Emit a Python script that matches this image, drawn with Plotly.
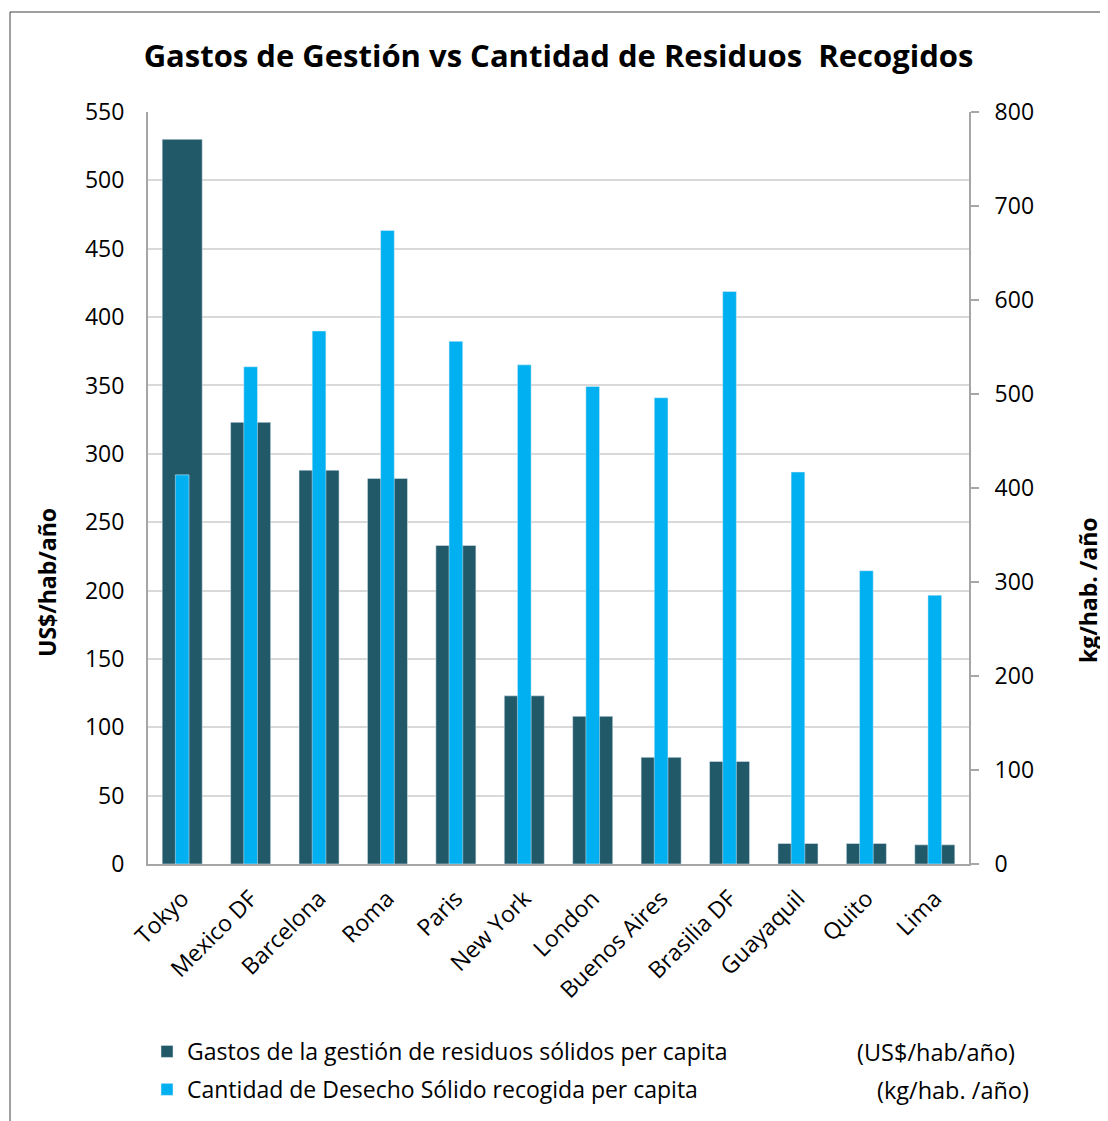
import plotly.graph_objects as go

cities = ["Tokyo", "Mexico DF", "Barcelona", "Roma", "Paris", "New York", "London",
          "Buenos Aires", "Brasilia DF", "Guayaquil", "Quito", "Lima"]
gastos = [530, 323, 288, 282, 233, 123, 108, 78, 75, 15, 15, 14]
cantidad = [414, 529, 567, 674, 556, 531, 508, 496, 609, 417, 312, 286]

name_gastos = "Gastos de la gestión de residuos sólidos per capita"
name_cantidad = "Cantidad de Desecho Sólido recogida per capita"
unit_gastos = "(US$/hab/año)"
unit_cantidad = "(kg/hab. /año)"
title_text = "Gastos de Gestión vs Cantidad de Residuos  Recogidos"

DARK = "#215968"
LIGHT = "#00B0F0"
FONT = "Open Sans"

# page body margin offset
O = 8
W, H = 1108 - O, 1170
L, R, T, B = 148 - O, 969 - O, 112 - O, 864 - O

fig = go.Figure()
fig.add_trace(go.Bar(x=cities, y=gastos, name=name_gastos, marker_color=DARK,
                     width=0.585, yaxis="y", legendgroup="a"))
fig.add_trace(go.Bar(x=cities, y=cantidad, name=name_cantidad, marker_color=LIGHT,
                     width=0.2, yaxis="y2", legendgroup="b"))

def px_x(p):
    return (p - O - L) / (R - L)

def px_y(p):
    return (B - (p - O)) / (B - T)

fig.update_layout(
    width=W, height=H,
    margin=dict(l=L, r=W - R, t=T, b=H - B),
    paper_bgcolor="white", plot_bgcolor="white",
    barmode="overlay",
    font=dict(family=FONT, color="#000000"),
    title=dict(text="<b>" + title_text + "</b>", x=0.5, xref="paper",
               y=1 - (56 - O) / H, yref="container", xanchor="center", yanchor="middle",
               font=dict(size=31, family=FONT, color="#000000")),
    xaxis=dict(showline=True, linecolor="#a6a6a6", linewidth=2, tickangle=-45,
               tickfont=dict(size=23, family=FONT), ticks="", showgrid=False,
               ticklabelstandoff=10, fixedrange=True),
    yaxis=dict(range=[0, 550], dtick=50, showgrid=True, gridcolor="#d9d9d9", gridwidth=2,
               showline=True, linecolor="#a6a6a6", linewidth=2, ticks="",
               tickfont=dict(size=23, family=FONT), ticklabelstandoff=17, zeroline=False),
    yaxis2=dict(range=[0, 800], dtick=100, overlaying="y", side="right", showgrid=False,
                showline=True, linecolor="#a6a6a6", linewidth=2, ticks="outside",
                ticklen=8, tickwidth=2, tickcolor="#a6a6a6",
                tickfont=dict(size=23, family=FONT), ticklabelstandoff=11, zeroline=False),
    legend=dict(x=px_x(147), y=px_y(1030), xanchor="left", yanchor="top",
                orientation="v", traceorder="grouped", tracegroupgap=5,
                font=dict(size=23, family=FONT), itemwidth=30, bgcolor="rgba(0,0,0,0)"),
    showlegend=True,
)

fig.add_annotation(text=unit_gastos, x=px_x(1017), y=px_y(1052), xref="paper", yref="paper",
                   xanchor="right", yanchor="middle", showarrow=False,
                   font=dict(size=23.5, family=FONT))
fig.add_annotation(text=unit_cantidad, x=px_x(1031), y=px_y(1090), xref="paper", yref="paper",
                   xanchor="right", yanchor="middle", showarrow=False,
                   font=dict(size=23.5, family=FONT))
fig.add_annotation(text="<b>US$/hab/año</b>", x=px_x(47), y=px_y(583), xref="paper", yref="paper",
                   xanchor="center", yanchor="middle", textangle=-90, showarrow=False,
                   font=dict(size=23, family=FONT))
fig.add_annotation(text="<b>kg/hab. /año</b>", x=px_x(1088), y=px_y(590), xref="paper", yref="paper",
                   xanchor="center", yanchor="middle", textangle=-90, showarrow=False,
                   font=dict(size=23, family=FONT))

fig.add_shape(type="rect", xref="paper", yref="paper",
              x0=px_x(10), x1=px_x(1130), y0=px_y(1150), y1=px_y(12),
              line=dict(color="#404040", width=1), fillcolor="rgba(0,0,0,0)", layer="below")

fig.write_html("out.html")
